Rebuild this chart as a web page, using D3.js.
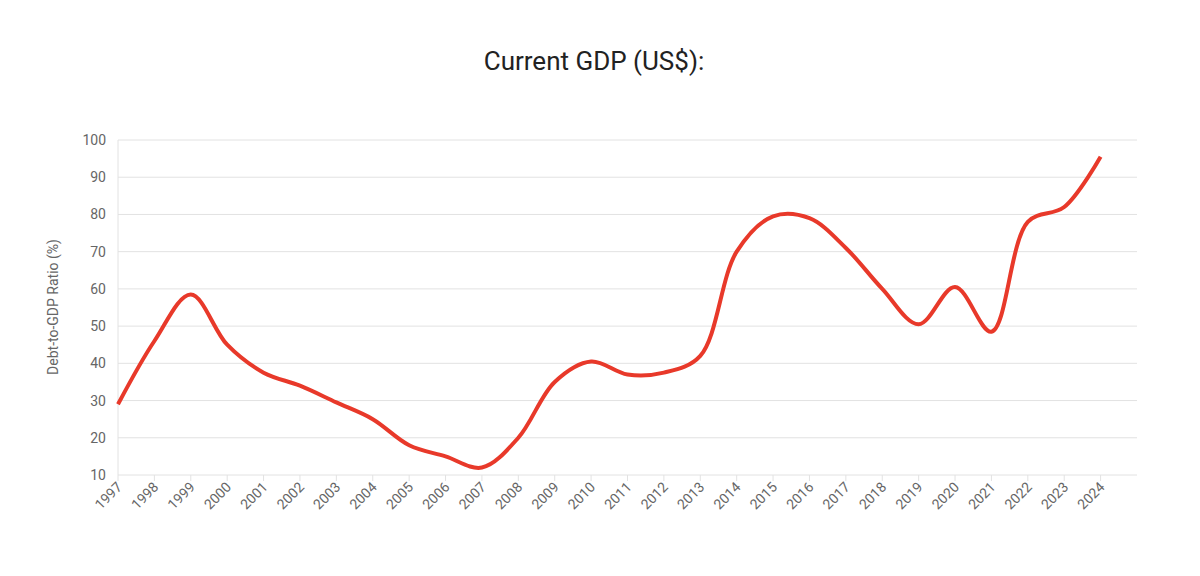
<!DOCTYPE html>
<html><head><meta charset="utf-8">
<script src="https://cdn.jsdelivr.net/npm/d3@7"></script>
<style>body{margin:0;background:#fff;font-family:"Helvetica Neue",Roboto,Arial,sans-serif}</style>
</head><body><svg id="c" width="1200" height="576"></svg>
<script>
const years = d3.range(1997, 2025)
const ratio = [29, 46, 58.5, 45, 37.5, 34, 29.5, 25, 18, 15, 12, 20, 35, 40.5, 37, 37.5, 42, 70, 79.5, 79, 71, 60, 50.5, 60.5, 48.5, 78, 82, 95.5]
const yTicks = d3.range(10, 101, 10)

const svg = d3.select('#c')
const x = d3.scaleLinear().domain([1997, 2025]).range([118, 1137])
const y = d3.scaleLinear().domain([10, 100]).range([475, 140])

svg.append('text').attr('x', 594).attr('y', 70).attr('text-anchor', 'middle')
  .attr('font-size', 26).attr('fill', '#222').text('Current GDP (US$):')

svg.append('g').selectAll('line').data(yTicks).join('line')
  .attr('x1', 118).attr('x2', 1137).attr('y1', d => y(d)).attr('y2', d => y(d))
  .attr('stroke', '#e2e2e2')
svg.append('line').attr('x1', 118).attr('x2', 118).attr('y1', 140).attr('y2', 475).attr('stroke', '#e2e2e2')

svg.append('g').selectAll('text').data(yTicks).join('text')
  .attr('x', 106).attr('y', d => y(d) + 5).attr('text-anchor', 'end')
  .attr('font-size', 14).attr('fill', '#666').text(d => d)

svg.append('g').selectAll('line').data(years).join('line')
  .attr('x1', d => x(d)).attr('x2', d => x(d)).attr('y1', 475).attr('y2', 481).attr('stroke', '#e2e2e2')

svg.append('g').selectAll('text').data(years).join('text')
  .attr('transform', d => `translate(${x(d) + 5},${488}) rotate(-45)`)
  .attr('text-anchor', 'end').attr('font-size', 14).attr('fill', '#666').text(d => d)

svg.append('text').attr('transform', 'translate(58,307) rotate(-90)')
  .attr('text-anchor', 'middle').attr('font-size', 14).attr('fill', '#666')
  .text('Debt-to-GDP Ratio (%)')

const line = d3.line().x((d, i) => x(years[i])).y(d => y(d)).curve(d3.curveCatmullRom.alpha(0.5))
svg.append('path').datum(ratio).attr('d', line)
  .attr('fill', 'none').attr('stroke', '#e8392a').attr('stroke-width', 4).attr('stroke-linejoin', 'round')
</script></body></html>
